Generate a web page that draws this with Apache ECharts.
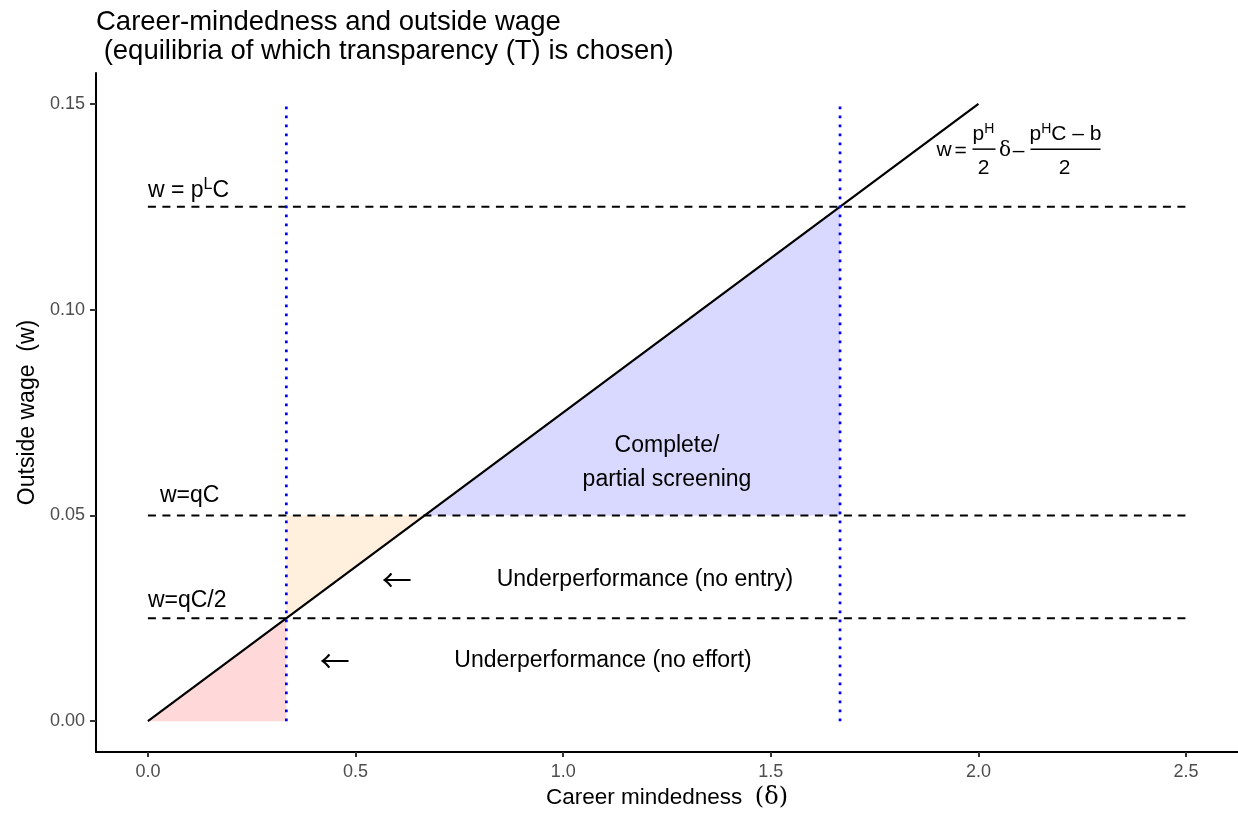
<!DOCTYPE html>
<html><head><meta charset="utf-8">
<script src="https://cdn.jsdelivr.net/npm/echarts@6/dist/echarts.min.js"></script>
<style>html,body{margin:0;padding:0;background:#fff}#c{width:1238px;height:816px}</style>
</head><body><div id="c"></div>
<script>
// ---- data ----
const xTicks = [0, 0.5, 1.0, 1.5, 2.0, 2.5];
const yTicks = [0, 0.05, 0.10, 0.15];
const mainLine = [[0, 0], [2, 0.15]];            // w = pH/2 δ - (pHC-b)/2
const hLevels = [0.125, 0.05, 0.025];             // w = pLC, w = qC, w = qC/2
const hRange = [0, 2.5];
const vLevels = [1 / 3, 5 / 3];
const vRange = [0, 0.15];
const polyRed = [[0, 0], [1 / 3, 0], [1 / 3, 0.025]];
const polyOrange = [[1 / 3, 0.025], [1 / 3, 0.05], [2 / 3, 0.05]];
const polyBlue = [[2 / 3, 0.05], [5 / 3, 0.05], [5 / 3, 0.125]];
const annoText = [
  {text: '{m|w = p}{s|L}{m|C}', at: [0, 0.1290], align: 'left'},
  {text: 'w=qC', at: [0.029, 0.0548], align: 'left'},
  {text: 'w=qC/2', at: [0, 0.0292], align: 'left'},
  {text: 'Complete/\npartial screening', at: [1.25, 0.0628], align: 'center'},
  {text: '{a|\u2190}', at: [0.599, 0.0345], align: 'center'},
  {text: 'Underperformance (no entry)', at: [1.197, 0.0345], align: 'center'},
  {text: '{a|\u2190}', at: [0.45, 0.0146], align: 'center'},
  {text: 'Underperformance (no effort)', at: [1.096, 0.0146], align: 'center'}
];
const eqAnchor = [1.8966, 0.1390];

const FONT = "'Liberation Sans', Arial, Helvetica, sans-serif";
const SERIF = "'DejaVu Serif', 'Liberation Serif', serif";
const chart = echarts.init(document.getElementById('c'));

function polySeries(pts, color) {
  return {
    type: 'custom', silent: true, z: 1, data: [pts[0]],
    renderItem: (p, api) => ({
      type: 'polygon',
      shape: {points: pts.map(q => api.coord(q))},
      style: {fill: color}
    })
  };
}
function lineSeries(data, style, z) {
  return {type: 'line', data: data, symbol: 'none', silent: true, z: z,
    lineStyle: style, animation: false};
}
function textSeries(item) {
  return {
    type: 'custom', silent: true, z: 10, data: [item.at],
    renderItem: (p, api) => {
      const pt = api.coord([api.value(0), api.value(1)]);
      return {type: 'text', x: pt[0], y: pt[1], style: {
        text: item.text, fill: '#000', fontSize: 23, fontFamily: FONT,
        align: item.align, verticalAlign: 'middle', lineHeight: 34,
        rich: {m: {fontSize: 23, lineHeight: 27, fontFamily: FONT},
               s: {fontSize: 16, lineHeight: 16, verticalAlign: 'top', fontFamily: FONT},
               a: {fontSize: 30, lineHeight: 30, fontFamily: "'Noto Sans CJK SC', 'DejaVu Sans', sans-serif"}}
      }};
    }
  };
}
const eqRich = {m: {fontSize: 21, lineHeight: 24, fontFamily: FONT},
  s: {fontSize: 14, lineHeight: 14, verticalAlign: 'top', fontFamily: FONT}};
function eqText(t, x, y, align, extra) {
  return {type: 'text', x: x, y: y, style: Object.assign({text: t, fill: '#000', fontSize: 21,
    fontFamily: FONT, align: align || 'center', verticalAlign: 'middle', rich: eqRich}, extra || {})};
}
const eqSeries = {
  type: 'custom', silent: true, z: 10, data: [eqAnchor],
  renderItem: (p, api) => {
    const pt = api.coord([api.value(0), api.value(1)]);
    return {type: 'group', x: pt[0], y: pt[1], children: [
      eqText('w', 1, 1, 'left'),
      eqText('=', 25, 2),
      {type: 'line', shape: {x1: 37, y1: 0, x2: 60, y2: 0}, style: {stroke: '#000', lineWidth: 1.5}},
      eqText('{m|p}{s|H}', 48, -15),
      eqText('2', 48, 19),
      eqText('\u03b4', 69.5, 2, 'center', {fontFamily: SERIF, fontSize: 20}),
      eqText('\u2013', 83, 2),
      {type: 'line', shape: {x1: 95, y1: 0, x2: 165, y2: 0}, style: {stroke: '#000', lineWidth: 1.5}},
      eqText('{m|p}{s|H}{m|C \u2013 b}', 130, -15),
      eqText('2', 129, 19)
    ]};
  }
};

const series = [
  polySeries(polyRed, 'rgba(255,0,0,0.15)'),
  polySeries(polyOrange, 'rgba(255,150,20,0.15)'),
  polySeries(polyBlue, 'rgba(0,0,255,0.15)'),
  lineSeries(mainLine, {color: '#000', width: 2.2}, 3)
];
hLevels.forEach(h => series.push(lineSeries([[hRange[0], h], [hRange[1], h]],
  {color: '#000', width: 2, type: [8, 6.5]}, 4)));
vLevels.forEach(v => series.push(lineSeries([[v, vRange[0]], [v, vRange[1]]],
  {color: '#0000ff', width: 2.7, type: [2.7, 6.3]}, 5)));
annoText.forEach(a => series.push(textSeries(a)));
series.push(eqSeries);

chart.setOption({
  animation: false,
  backgroundColor: '#fff',
  title: {
    text: 'Career-mindedness and outside wage\n (equilibria of which transparency (T) is chosen)',
    left: 96, top: 8, padding: 0,
    textStyle: {fontFamily: FONT, fontSize: 27.5, fontWeight: 'normal', color: '#000', lineHeight: 29}
  },
  grid: {left: 96, top: 73, width: 1144, height: 679, containLabel: false},
  xAxis: {
    type: 'value', min: -0.125, max: 2.625,
    splitLine: {show: false},
    axisLine: {show: true, onZero: false, lineStyle: {color: '#000', width: 2}},
    axisTick: {show: true, customValues: xTicks, length: 5, lineStyle: {color: '#333', width: 2}},
    axisLabel: {customValues: xTicks, color: '#4d4d4d', fontSize: 18, fontFamily: FONT, margin: 11,
      formatter: v => v.toFixed(1)},
    name: 'Career mindedness  {s|(\u03b4)}', nameLocation: 'middle', nameGap: 34,
    nameTextStyle: {fontFamily: FONT, fontSize: 22.5, color: '#000',
      rich: {s: {fontFamily: SERIF, fontSize: 24, color: '#000'}}}
  },
  yAxis: {
    type: 'value', min: -0.0075, max: 0.1575,
    splitLine: {show: false},
    axisLine: {show: true, onZero: false, lineStyle: {color: '#000', width: 2}},
    axisTick: {show: true, customValues: yTicks, length: 6, lineStyle: {color: '#333', width: 2}},
    axisLabel: {customValues: yTicks, color: '#4d4d4d', fontSize: 18, fontFamily: FONT, margin: 11,
      formatter: v => v.toFixed(2)},
    name: 'Outside wage  (w)', nameLocation: 'middle', nameGap: 57,
    nameTextStyle: {fontFamily: FONT, fontSize: 23, color: '#000'}
  },
  series: series
});
</script></body></html>
